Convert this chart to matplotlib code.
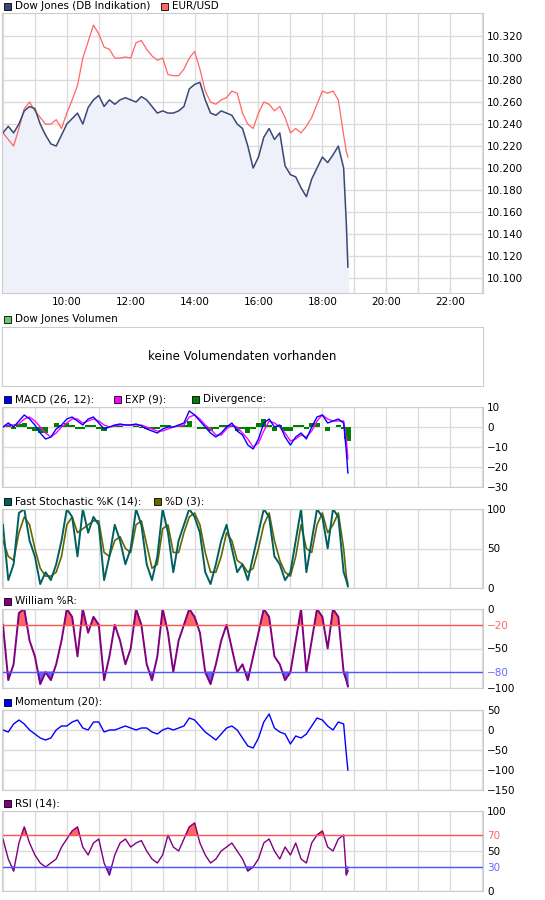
import numpy as np
import matplotlib
matplotlib.use("Agg")
import matplotlib.pyplot as plt
from matplotlib.patches import Rectangle

# ---- data (10-minute samples from 08:00, plus final two ticks) ----
times = list(8 + np.arange(65) / 6) + [18.75, 18.8]

dow = [10.232,10.238,10.232,10.240,10.252,10.256,
       10.254,10.240,10.230,10.222,10.220,10.230,
       10.240,10.245,10.250,10.240,10.255,10.262,
       10.266,10.256,10.262,10.258,10.262,10.264,
       10.262,10.260,10.265,10.262,10.256,10.250,
       10.252,10.250,10.250,10.252,10.256,10.272,
       10.276,10.278,10.262,10.250,10.248,10.252,
       10.250,10.248,10.240,10.236,10.220,10.200,
       10.210,10.228,10.236,10.226,10.232,10.202,
       10.194,10.192,10.182,10.174,10.190,10.200,
       10.210,10.205,10.212,10.220,10.200,10.150,10.110]
eurusd = [10.232,10.226,10.220,10.236,10.254,10.260,
          10.252,10.246,10.240,10.240,10.244,10.236,
          10.250,10.262,10.275,10.300,10.315,10.330,
          10.322,10.310,10.308,10.300,10.300,10.301,
          10.300,10.314,10.316,10.308,10.302,10.298,
          10.300,10.285,10.284,10.284,10.290,10.300,
          10.306,10.290,10.270,10.260,10.258,10.262,
          10.264,10.270,10.268,10.250,10.240,10.236,
          10.250,10.260,10.258,10.252,10.256,10.246,
          10.232,10.236,10.232,10.238,10.246,10.258,
          10.270,10.268,10.270,10.262,10.230,10.215,10.210]
macd = [0,2,0,3,6,4,
        1,-3,-6,-5,-1,1,
        4,5,3,1,4,5,
        2,-1,0,1,1.5,1,
        1,1.5,0.5,-1,-2,-3,
        -1,0,0,1,2,8,
        6,3,0,-3,-5,-3,
        0,2,-2,-4,-9,-11,
        -6,2,4,0,1,-5,
        -9,-5,-3,-6,0,5,
        6,2,3,4,2,-12,-23]
signal = [0,1,1,1.5,4,5,
          3,0,-3,-5,-3,0,
          2,4,4,2,3,4,
          3,1,0,0.5,1,1,
          1,1,1,0,-1,-2,
          -2,-1,0,0.5,1,5,
          6,4,1,-1,-4,-4,
          -1,1,0,-3,-6,-10,
          -8,-2,3,2,0,-3,
          -7,-6,-4,-5,-2,3,
          6,4,3,3,3,-6,-16]
divergence = [0,1,-1,1.5,2,-1,
              -2,-3,-3,0,2,1,
              2,1,-1,-1,1,1,
              -1,-2,0,0.5,0.5,0,
              0,0.5,-0.5,-1,-1,-1,
              1,1,0,0.5,1,3,
              0,-1,-1,-2,-1,1,
              1,1,-2,-1,-3,-1,
              2,4,1,-2,1,-2,
              -2,1,1,-1,2,2,
              0,-2,0,1,-1,-6,-7]
stoch_k = [80,10,30,95,100,60,
           40,5,20,10,30,60,
           100,90,40,100,70,90,
           80,10,40,80,60,30,
           50,100,80,30,10,40,
           100,70,20,60,80,100,
           90,70,20,5,30,60,
           80,50,20,30,10,40,
           70,100,90,40,30,10,
           20,60,100,20,60,100,
           90,50,100,90,20,10,2]
stoch_d = [60,40,35,70,90,80,
           50,25,15,15,20,40,
           80,90,70,75,80,85,
           85,45,40,60,65,50,
           45,80,85,55,25,30,
           75,80,45,45,70,90,
           95,80,45,20,20,40,
           70,60,35,30,20,25,
           50,80,95,60,35,20,
           15,40,80,50,45,80,
           95,70,80,95,50,15,5]
williams = [-20,-90,-70,-5,0,-40,
            -60,-95,-80,-90,-70,-40,
            0,-10,-60,0,-30,-10,
            -20,-90,-60,-20,-40,-70,
            -50,0,-20,-70,-90,-60,
            0,-30,-80,-40,-20,0,
            -10,-30,-80,-95,-70,-40,
            -20,-50,-80,-70,-90,-60,
            -30,0,-10,-60,-70,-90,
            -80,-40,0,-80,-40,0,
            -10,-50,0,-10,-80,-90,-98]
momentum = [0,-5,15,25,15,0,
            -10,-20,-25,-20,0,10,
            10,20,25,5,0,20,
            20,-5,0,0,5,10,
            5,0,5,5,-5,-10,
            0,5,0,5,10,30,
            25,10,-5,-15,-25,-10,
            5,10,0,-20,-40,-45,
            -20,20,40,5,-5,-10,
            -35,-15,-20,-10,10,30,
            25,10,0,20,15,-60,-100]
rsi = [65,40,25,60,80,60,
       45,35,30,35,40,55,
       65,75,80,55,45,60,
       65,35,20,45,60,65,
       55,60,63,50,40,35,
       45,70,55,50,65,80,
       85,60,45,35,40,50,
       55,60,50,40,25,30,
       40,60,65,50,40,55,
       45,60,40,35,60,70,
       75,55,50,65,70,20,25]

# ---- figure ----
W, H = 545, 900
fig = plt.figure(figsize=(W/100, H/100), dpi=100)
plt.rcParams['font.family'] = ['DejaVu Sans']
FS = 7.5
GRID = '#dcdcdc'
X0, X1 = 2, 483

def mkax(top, bottom):
    ax = fig.add_axes([X0/W, 1-bottom/H, (X1-X0)/W, (bottom-top)/H])
    ax.set_xlim(7.97, 23.03)
    ax.set_xticks(np.arange(8, 24, 1))
    ax.grid(True, color=GRID, lw=1)
    ax.set_axisbelow(True)
    for s in ax.spines.values():
        s.set_color('#cccccc')
    ax.yaxis.tick_right()
    ax.tick_params(length=0, labelsize=FS, colors='black', pad=3)
    ax.tick_params(axis='x', labelbottom=False)
    return ax

def legend(y, items):
    x = 4
    for label, col, dx in items:
        fig.add_artist(Rectangle((x/W, 1-(y+4)/H), 7/W, 7/H, transform=fig.transFigure,
                                 facecolor=col, edgecolor='black', lw=0.6))
        fig.text((x+11)/W, 1-y/H, label, fontsize=FS, va='center', ha='left')
        x += dx

# Panel 1
ax = mkax(13, 293)
ax.set_ylim(10.0864, 10.341)
ax.set_yticks(np.arange(10.10, 10.33, 0.02))
ax.set_yticklabels([f"{v:.3f}" for v in np.arange(10.10, 10.33, 0.02)])
ax.fill_between(times, dow, 10.0, color='#eef1fa')
ax.plot(times, eurusd, color='#ff6666', lw=0.9)
ax.plot(times, dow, color='#3b4a75', lw=1.1)
ax.tick_params(axis='x', labelbottom=True)
ax.set_xticklabels([f"{h}:00" if h % 2 == 0 and h >= 10 else "" for h in range(8, 24)])
legend(6, [("Dow Jones (DB Indikation)", '#3b4a75', 157), ("EUR/USD", '#ff6666', 80)])

# Panel 2 volume
ax = mkax(327, 386)
ax.set_yticks([]); ax.set_xticks([]); ax.grid(False)
ax.text(0.5, 0.5, "keine Volumendaten vorhanden", transform=ax.transAxes,
        ha='center', va='center', fontsize=8.5)
legend(319, [("Dow Jones Volumen", '#66cc66', 150)])

# Panel 3 MACD
ax = mkax(407, 487)
ax.set_ylim(-30, 10); ax.set_yticks([10, 0, -10, -20, -30])
ax.set_yticklabels(['10', '0', '\u221210', '\u221220', '\u221230'])
ax.bar(times, divergence, width=1/6, align='center', color='#008000')
ax.plot(times, signal, color='#ff00ff', lw=1)
ax.plot(times, macd, color='#0000ff', lw=1)
legend(399, [("MACD (26, 12):", '#0000ff', 110), ("EXP (9):", '#ff00ff', 78), ("Divergence:", '#008000', 90)])

# Panel 4 Stochastic
ax = mkax(509, 588)
ax.set_ylim(0, 100); ax.set_yticks([0, 50, 100])
ax.plot(times, stoch_d, color='#666600', lw=1.2)
ax.plot(times, stoch_k, color='#006060', lw=1.4)
legend(501, [("Fast Stochastic %K (14):", '#006060', 150), ("%D (3):", '#666600', 60)])

# Panel 5 Williams
ax = mkax(609, 688)
ax.set_ylim(-100, 0); ax.set_yticks([0, -20, -50, -80, -100])
ax.set_yticklabels(['0', '\u221220', '\u221250', '\u221280', '\u2212100'])
for lbl, c in zip(ax.get_yticklabels(), ['black', '#ff6666', 'black', '#6666ff', 'black']):
    lbl.set_color(c)
w = np.array(williams)
ax.fill_between(times, w, -20, where=w > -20, interpolate=True, color='#ff6666')
ax.fill_between(times, w, -80, where=w < -80, interpolate=True, color='#6666ff')
ax.plot(times, williams, color='#800080', lw=1.4)
ax.axhline(-20, color='#ff5555', lw=1)
ax.axhline(-80, color='#5555ff', lw=1)
legend(601, [("William %R:", '#800080', 100)])

# Panel 6 Momentum
ax = mkax(710, 790)
ax.set_ylim(-150, 50); ax.set_yticks([50, 0, -50, -100, -150])
ax.set_yticklabels(['50', '0', '\u221250', '\u2212100', '\u2212150'])
ax.plot(times, momentum, color='#0000ff', lw=1)
legend(702, [("Momentum (20):", '#0000ff', 100)])

# Panel 7 RSI
ax = mkax(811, 891)
ax.set_ylim(0, 100); ax.set_yticks([0, 30, 50, 70, 100])
for lbl, c in zip(ax.get_yticklabels(), ['black', '#6666ff', 'black', '#ff6666', 'black']):
    lbl.set_color(c)
r = np.array(rsi)
ax.fill_between(times, r, 70, where=r > 70, interpolate=True, color='#ff6666')
ax.fill_between(times, r, 30, where=r < 30, interpolate=True, color='#6666ff')
ax.plot(times, rsi, color='#800080', lw=1)
ax.axhline(70, color='#ff5555', lw=1)
ax.axhline(30, color='#5555ff', lw=1)
legend(803, [("RSI (14):", '#800080', 100)])

fig.savefig('out.png', dpi=100)
